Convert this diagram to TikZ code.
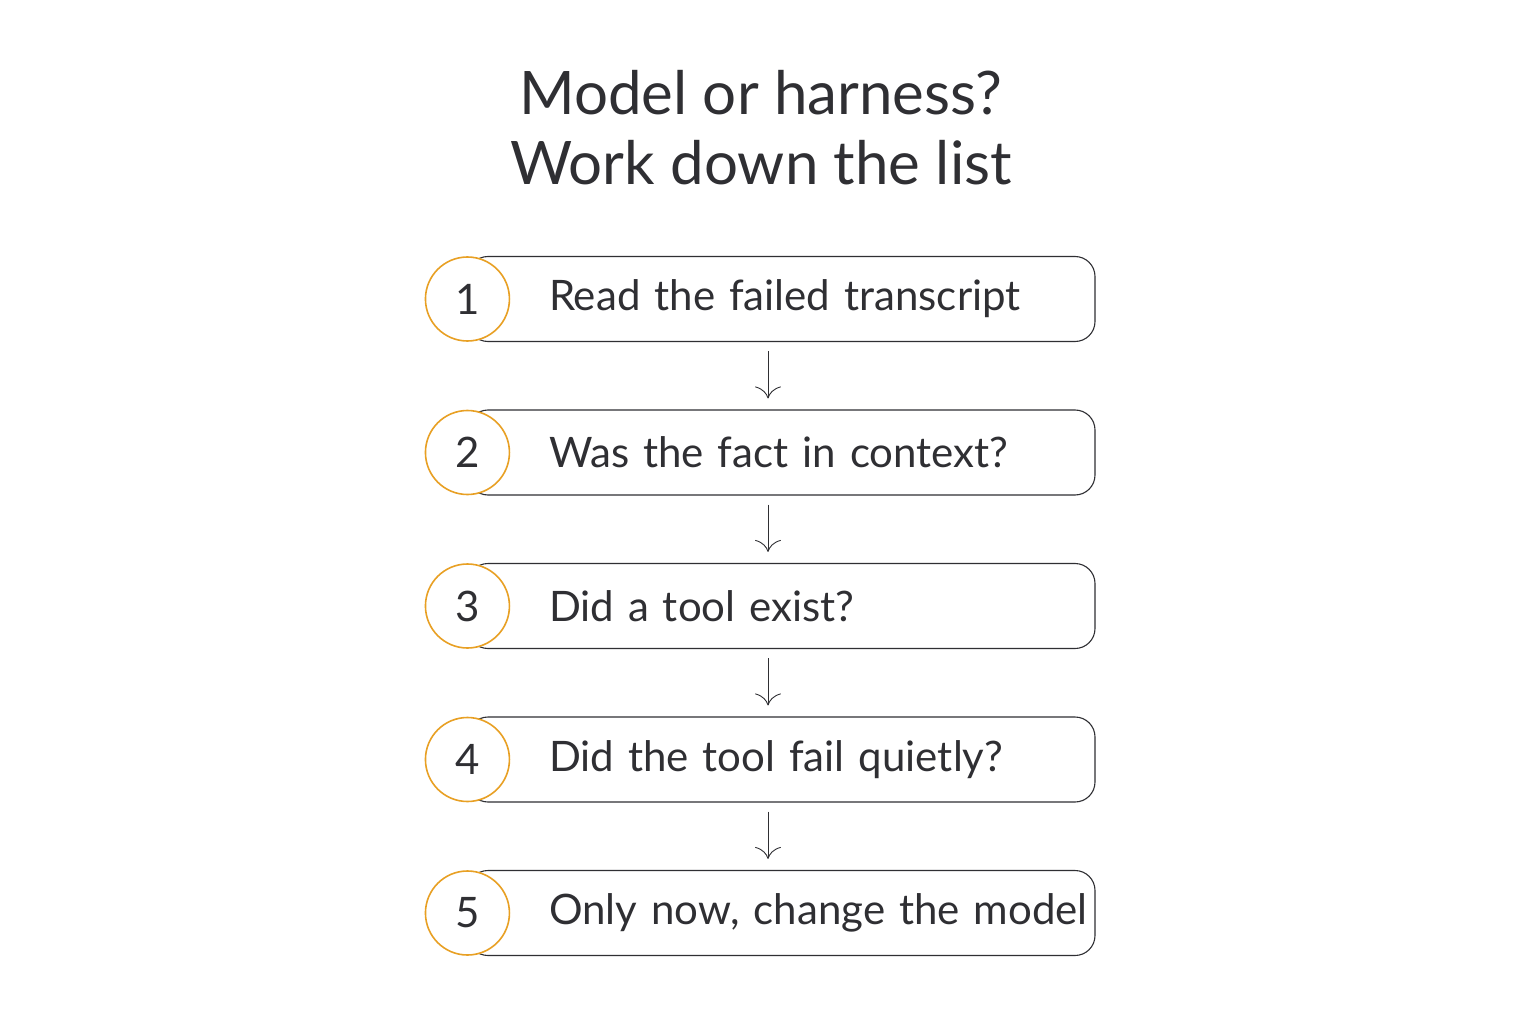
\documentclass[tikz,border=0pt]{standalone}
\usepackage{fontspec}
\setmainfont{Lato}
\usetikzlibrary{arrows.meta,positioning}
\definecolor{inkgray}{HTML}{2F2F33}
\definecolor{ringorange}{HTML}{E8A024}
\tikzset{
    stepbox/.style={
           rectangle,
           rounded corners=20pt,
           draw=inkgray,
           line width=1.1pt,
           minimum width=627pt,
           minimum height=85pt,
           text width=620pt,
           inner xsep=0pt,
           align=left,
           execute at begin node=\hspace*{77.5pt},
           font=\fontsize{42}{48}\selectfont,
           text=inkgray,
           },
    numring/.style={
           circle,
           draw=ringorange,
           line width=1.6pt,
           fill=white,
           minimum size=84pt,
           inner sep=0pt,
           font=\fontsize{42}{48}\selectfont,
           text=inkgray,
           },
}
\begin{document}
\begin{tikzpicture}[
  x=1pt,y=-1pt,
  node distance=153.5pt,
  flow/.style={-{To[length=12pt,width=26pt]},draw=inkgray,line width=0.9pt,shorten <=9pt,shorten >=11pt}]
\useasboundingbox[fill=white] (0,0) rectangle (1536,1024);
\node[font=\fontsize{60}{70}\selectfont,text=inkgray,align=center](title) at (761,128){Model or harness?\\Work down the list};
\node[stepbox](read) at (781.5,299){Read the failed transcript};
\node[stepbox,below of=read](context){Was the fact in context?};
\node[stepbox,below of=context](toolexist){Did a tool exist?};
\node[stepbox,below of=toolexist](toolfail){Did the tool fail quietly?};
\node[stepbox,below of=toolfail](model){Only now, change the model};
% number rings sit on the left end of each box
\foreach \s/\n in {read/1,context/2,toolexist/3,toolfail/4,model/5}
  \node[numring] (ring\n) at (\s.west) {\n};
\path ([xshift=-13.5pt]read.south) edge[flow] ([xshift=-13.5pt]context.north)
      ([xshift=-13.5pt]context.south) edge[flow] ([xshift=-13.5pt]toolexist.north)
      ([xshift=-13.5pt]toolexist.south) edge[flow] ([xshift=-13.5pt]toolfail.north)
      ([xshift=-13.5pt]toolfail.south) edge[flow] ([xshift=-13.5pt]model.north);
\end{tikzpicture}
\end{document}
